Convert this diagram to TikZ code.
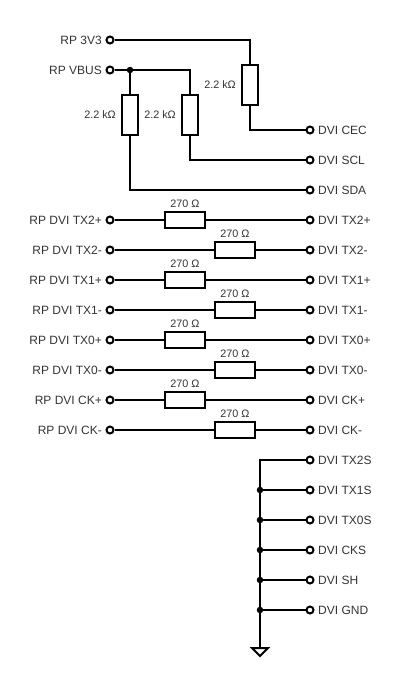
\documentclass[tikz,border=0pt]{standalone}
\usepackage{fontspec}
\setmainfont{Liberation Sans}
\definecolor{txt}{HTML}{333333}
\tikzset{
 wire/.style={line width=2pt,black},
 pin/.style={circle,draw=black,fill=white,line width=2pt,minimum size=7pt,inner sep=0pt},
 dot/.style={circle,fill=black,minimum size=6.5pt,inner sep=0pt},
 resv/.style={rectangle,draw=black,fill=white,line width=2pt,minimum width=16pt,minimum height=40pt,inner sep=0pt},
 resh/.style={rectangle,draw=black,fill=white,line width=2pt,minimum width=40pt,minimum height=16pt,inner sep=0pt},
 lab/.style={font=\fontsize{12}{14}\selectfont,text=txt,inner sep=0pt},
 val/.style={font=\fontsize{10.8}{12}\selectfont,text=txt,inner sep=0pt},
}
\begin{document}
\begin{tikzpicture}[x=1pt,y=-1pt]
\useasboundingbox (0,0) rectangle (400,680);
% power and I2C section
\node[pin] (p3v3) at (110,40) {};
\node[pin] (pvbus) at (110,70) {};
\node[dot] (jv) at (130,70) {};
\node[resv] (r1) at (130,115) {};
\node[resv] (r2) at (190,115) {};
\node[resv] (r3) at (250,85) {};
\node[pin] (dcec) at (310,130) {};
\node[pin] (dscl) at (310,160) {};
\node[pin] (dsda) at (310,190) {};
\draw[wire] (p3v3) -| (r3.north);
\draw[wire] (r3.south) |- (dcec);
\draw[wire] (pvbus) -- (jv);
\draw[wire] (jv) -| (r2.north);
\draw[wire] (jv) -- (r1.north);
\draw[wire] (r2.south) |- (dscl);
\draw[wire] (r1.south) |- (dsda);
\node[lab,anchor=east] at (102,40.5) {RP 3V3};
\node[lab,anchor=east] at (102,70.5) {RP VBUS};
\node[lab,anchor=west] at (318,130.5) {DVI CEC};
\node[lab,anchor=west] at (318,160.5) {DVI SCL};
\node[lab,anchor=west] at (318,190.5) {DVI SDA};
\node[val,anchor=east] at (116,115) {2.2 kΩ};
\node[val,anchor=east] at (176,115) {2.2 kΩ};
\node[val,anchor=east] at (236,85) {2.2 kΩ};
% differential pairs
\foreach \i/\y/\rx/\nm in {1/220/185/TX2+,2/250/235/TX2-,3/280/185/TX1+,4/310/235/TX1-,5/340/185/TX0+,6/370/235/TX0-,7/400/185/CK+,8/430/235/CK-}{
 \node[pin] (a\i) at (110,\y) {};
 \node[pin] (b\i) at (310,\y) {};
 \node[resh] (s\i) at (\rx,\y) {};
 \draw[wire] (a\i) -- (s\i);
 \draw[wire] (s\i) -- (b\i);
 \node[lab,anchor=east] at (102,\y+0.5) {RP DVI \nm};
 \node[lab,anchor=west] at (318,\y+0.5) {DVI \nm};
 \node[val] at (\rx,\y-16) {270 Ω};
}
% ground section
\coordinate (top) at (260,460);
\node[pin] (g0) at (310,460) {};
\foreach \i/\y/\nm in {1/490/TX1S,2/520/TX0S,3/550/CKS,4/580/SH,5/610/GND}{
 \node[dot] (j\i) at (260,\y) {};
 \node[pin] (g\i) at (310,\y) {};
 \draw[wire] (j\i) -- (g\i);
 \node[lab,anchor=west] at (318,\y+0.5) {DVI \nm};
}
\node[lab,anchor=west] at (318,460.5) {DVI TX2S};
\coordinate (gnd) at (260,648);
\draw[wire] (g0) -- (top) -- (gnd);
\draw[wire,line join=miter] (252,648) -- (268,648) -- (260,656) -- cycle;
\end{tikzpicture}
\end{document}
